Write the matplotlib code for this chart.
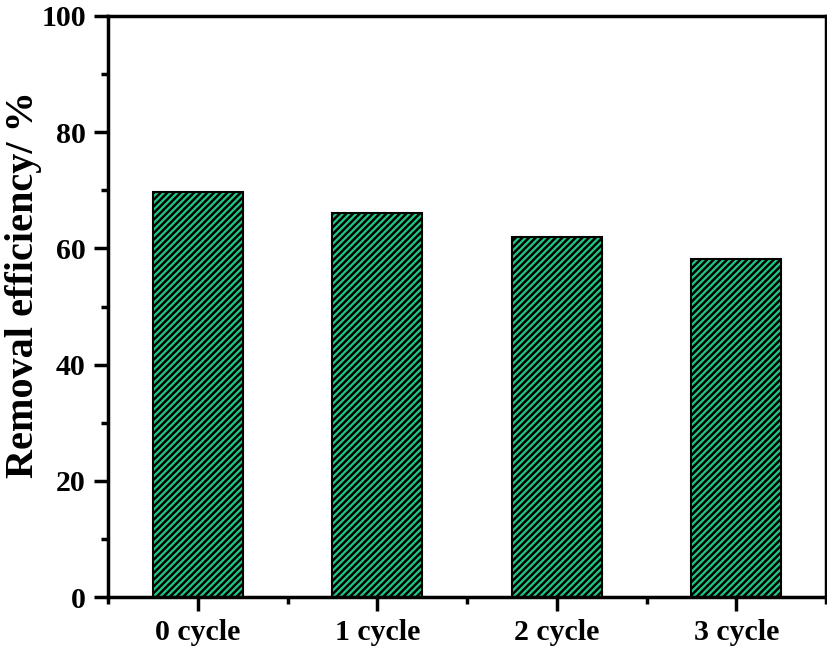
import numpy as np
import matplotlib
matplotlib.use('Agg')
import matplotlib.pyplot as plt
from matplotlib.ticker import MultipleLocator, FixedLocator

cycles = ['0 cycle', '1 cycle', '2 cycle', '3 cycle']
efficiency = [69.7, 66.1, 62.0, 58.2]

plt.rcParams['font.family'] = 'Liberation Serif'
plt.rcParams['font.weight'] = 'bold'
plt.rcParams['hatch.linewidth'] = 1.8
plt.rcParams['hatch.color'] = 'black'

fig = plt.figure(figsize=(8.27, 6.49), dpi=100)
ax = fig.add_axes([108/827, 1 - 597/649, (826-108)/827, (597-16)/649])

x = np.arange(len(cycles))
ax.bar(x, efficiency, width=0.5, color='#1ECB84', edgecolor='black',
       linewidth=1.5, hatch='/////')

ax.set_xlim(-0.5, 3.5)
ax.set_ylim(0, 100)
ax.set_xticks(x)
ax.set_xticklabels(cycles)
ax.xaxis.set_minor_locator(FixedLocator([-0.5, 0.5, 1.5, 2.5, 3.5]))
ax.yaxis.set_major_locator(MultipleLocator(20))
ax.yaxis.set_minor_locator(MultipleLocator(10))
ax.tick_params(which='major', direction='out', length=10, width=2.5,
               labelsize=21.5, pad=6)
ax.tick_params(which='minor', direction='out', length=5, width=2.5)
ax.tick_params(top=False, right=False, which='both')
for lbl in ax.get_xticklabels() + ax.get_yticklabels():
    lbl.set_fontweight('bold')
for s in ax.spines.values():
    s.set_linewidth(2.5)

ax.set_ylabel('Removal efficiency/ %', fontsize=29, fontweight='bold')
ax.yaxis.set_label_coords(-0.092, 0.537)

fig.savefig('out.png', dpi=100)
